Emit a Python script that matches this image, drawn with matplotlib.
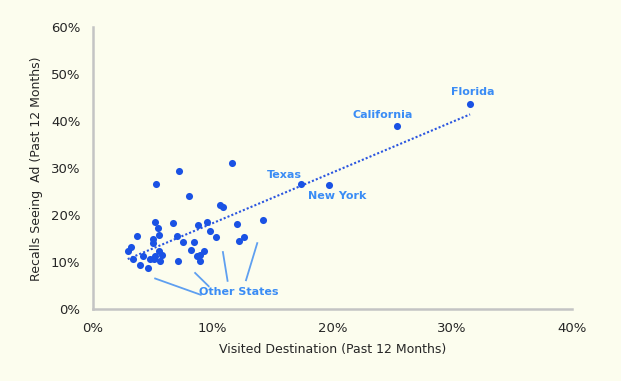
import matplotlib
matplotlib.use('Agg')
import matplotlib.pyplot as plt
from matplotlib.ticker import FuncFormatter

# Named states (percent)
named_states = ['Florida', 'California', 'Texas', 'New York']
named_visited = [31.5, 25.4, 17.4, 19.7]
named_recall = [43.8, 39.0, 26.7, 26.5]

# Other states (percent)
other_visited = [11.6, 7.2, 5.3, 8.0, 10.6, 10.9, 5.2, 6.7, 8.8, 9.5,
                 12.0, 14.2, 3.7, 5.4, 5.5, 5.0, 5.0, 7.0, 7.5, 8.4,
                 9.8, 10.3, 12.6, 12.2, 3.2, 2.9, 5.5, 5.8, 8.2, 9.3,
                 4.2, 5.2, 4.8, 5.1, 3.3, 8.7, 8.9, 8.9, 5.6, 7.1,
                 3.9, 4.6]
other_recall = [31.1, 29.5, 26.7, 24.1, 22.3, 21.7, 18.7, 18.3, 18.0, 18.7,
                18.1, 19.1, 15.7, 17.4, 15.9, 15.0, 14.2, 15.7, 14.3, 14.3,
                16.7, 15.3, 15.3, 14.5, 13.3, 12.4, 12.4, 11.6, 12.6, 12.4,
                11.4, 11.3, 10.7, 10.7, 10.8, 11.3, 11.6, 10.4, 10.2, 10.2,
                9.5, 8.7]

# Trend line end points
trend_x = [2.9, 31.5]
trend_y = [10.7, 41.5]

x_ticks = [0, 10, 20, 30, 40]
y_ticks = [0, 10, 20, 30, 40, 50, 60]

BG = '#FCFDEE'
DOT = '#1A52E4'
LABEL = '#3A8CF5'
LEADER = '#5E9FF0'
GREY = '#C4C4C4'
TEXT = '#262626'

plt.rcParams['font.family'] = ['DejaVu Sans']

fig = plt.figure(figsize=(6.21, 3.81), dpi=100, facecolor=BG)
ax = fig.add_axes([0.1498, 0.188, 0.771, 0.740], facecolor=BG)

ax.plot(trend_x, trend_y, linestyle=(0, (1, 1)), color='#2A55E0', linewidth=1.5, zorder=2)
ax.scatter(other_visited, other_recall, s=26, color=DOT, zorder=3, linewidths=0)
ax.scatter(named_visited, named_recall, s=26, color=DOT, zorder=3, linewidths=0)

# state labels
label_pos = {'Florida': (31.7, 46.3), 'California': (24.2, 41.3),
             'Texas': (16.0, 28.7), 'New York': (20.4, 24.2)}
for name in named_states:
    lx, ly = label_pos[name]
    ax.text(lx, ly, name, color=LABEL, fontsize=8, fontweight='bold',
            ha='center', va='center', zorder=4)

# "Other States" callout
ax.text(12.2, 3.6, 'Other States', color=LABEL, fontsize=8, fontweight='bold',
        ha='center', va='center', zorder=4)
leaders = [((5.19, 6.57), (9.0, 3.10)),
           ((8.53, 7.75), (9.66, 4.93)),
           ((10.85, 12.2), (11.24, 6.07)),
           ((13.72, 14.1), (12.78, 6.2))]
for (x0, y0), (x1, y1) in leaders:
    ax.plot([x0, x1], [y0, y1], color=LEADER, linewidth=1.3, zorder=2)

ax.set_xlim(0, 40)
ax.set_ylim(0, 60)
ax.set_xticks(x_ticks)
ax.set_yticks(y_ticks)
pct = FuncFormatter(lambda v, p: f'{v:.0f}%')
ax.xaxis.set_major_formatter(pct)
ax.yaxis.set_major_formatter(pct)
ax.tick_params(length=0, labelsize=9.5, colors=TEXT)
ax.tick_params(axis='x', pad=9)
ax.tick_params(axis='y', pad=9)

for side in ['top', 'right']:
    ax.spines[side].set_visible(False)
for side in ['left', 'bottom']:
    ax.spines[side].set_color(GREY)
    ax.spines[side].set_linewidth(1.8)

ax.set_xlabel('Visited Destination (Past 12 Months)', fontsize=9, color=TEXT, labelpad=6)
ax.set_ylabel('Recalls Seeing  Ad (Past 12 Months)', fontsize=9, color=TEXT, labelpad=6)

fig.savefig('out.png', dpi=100, facecolor=BG)
